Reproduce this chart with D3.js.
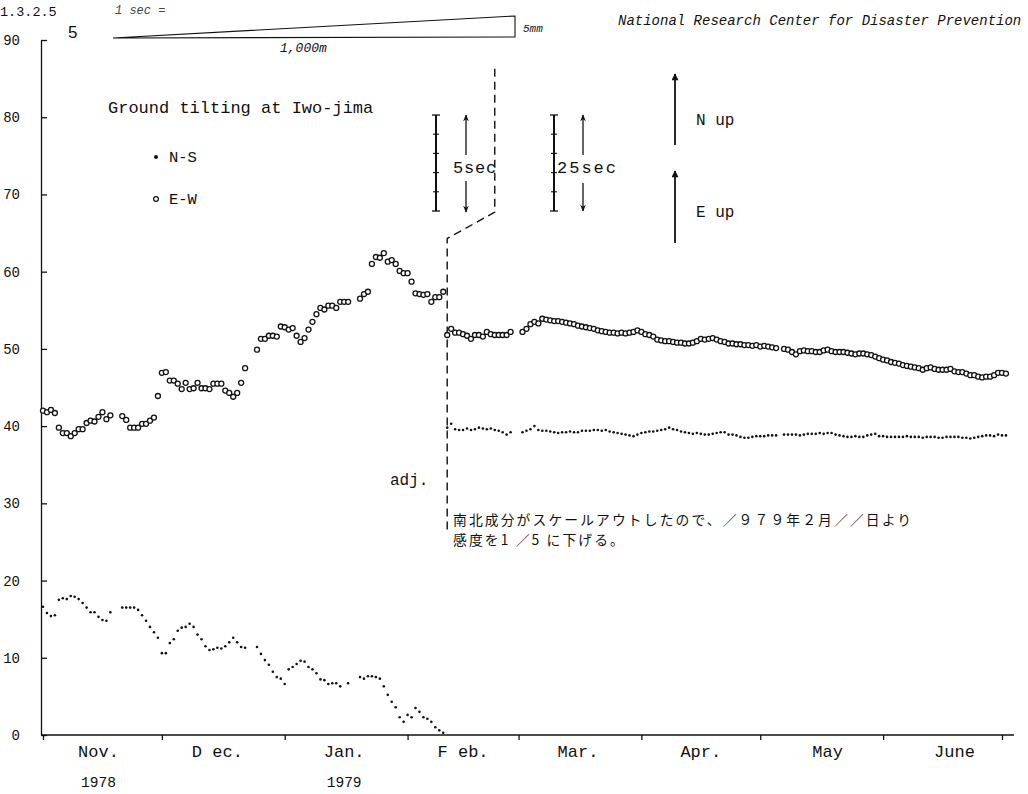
<!DOCTYPE html>
<html>
<head>
<meta charset="utf-8">
<script src="https://cdnjs.cloudflare.com/ajax/libs/d3/7.8.5/d3.min.js"></script>
<style>
body { margin: 0; background: #fff; }
text { font-family: "Liberation Mono", "DejaVu Sans Mono", monospace; fill: #111; }
.jp { font-family: "Noto Sans CJK JP", sans-serif; }
</style>
</head>
<body>
<svg id="viz" width="1028" height="794"></svg>
<script>
window.onload = main;

// daily readings, index 0 = 1 Nov 1978 (null = no reading)
var startDay = new Date(1978, 10, 1);
var nsValues = [
  16.6,15.8,15.4,15.5,17.5,17.7,17.6,18.0,17.9,17.6,
  17.1,16.5,15.9,15.9,15.3,14.9,14.8,15.9,null,null,
  16.5,16.5,16.5,16.5,16.2,15.5,14.8,14.0,13.3,12.6,
  10.6,10.6,11.9,12.4,13.5,13.9,14.0,14.4,14.0,13.0,
  12.4,11.5,11.0,11.1,11.3,11.2,11.5,12.0,12.6,12.0,
  11.4,11.3,null,null,11.4,10.5,9.7,9.1,8.2,7.5,
  7.3,6.6,8.5,8.8,9.2,9.6,9.5,8.8,8.5,8.0,
  7.2,7.1,6.6,6.7,6.7,6.3,null,6.7,null,null,
  7.5,7.3,7.6,7.6,7.5,7.3,6.3,5.2,4.3,3.6,
  2.3,1.7,2.6,2.3,3.5,3.0,2.3,2.1,1.7,1.0,
  0.6,0.3,39.8,40.3,39.6,39.5,39.5,39.7,39.5,39.6,
  39.8,39.7,39.6,39.7,39.5,39.4,39.2,38.9,39.2,null,
  null,39.2,39.4,39.6,40.0,39.5,39.4,39.4,39.3,39.2,
  39.1,39.2,39.2,39.3,39.2,39.2,39.4,39.4,39.4,39.5,
  39.5,39.4,39.5,39.3,39.2,39.1,39.0,38.9,38.8,38.7,
  38.9,39.1,39.2,39.3,39.3,39.4,39.5,39.6,39.8,39.6,
  39.5,39.3,39.2,39.1,39.0,39.1,39.0,38.9,38.9,39.0,
  39.1,39.2,39.2,38.9,38.9,38.8,38.6,38.5,38.5,38.6,
  38.7,38.7,38.7,38.8,38.8,38.8,null,38.9,38.9,38.9,
  38.9,38.8,38.9,39.0,39.0,39.0,39.1,39.0,39.1,39.1,
  38.9,38.8,38.7,38.6,38.6,38.7,38.6,38.6,38.8,38.9,
  39.0,38.7,38.7,38.6,38.6,38.6,38.6,38.6,38.7,38.6,
  38.6,38.6,38.5,38.6,38.6,38.6,38.5,38.5,38.6,38.6,
  38.6,38.6,38.5,38.5,38.4,38.5,38.6,38.7,38.8,38.8,
  38.7,38.9,38.8,38.8
];
var ewValues = [
  42.0,41.8,42.1,41.7,39.8,39.1,39.1,38.7,39.1,39.6,
  39.6,40.4,40.7,40.6,41.2,41.8,40.9,41.4,null,null,
  41.3,40.8,39.8,39.8,39.8,40.3,40.3,40.7,41.1,43.9,
  46.9,47.0,45.9,45.9,45.5,44.8,45.6,44.8,44.9,45.6,
  44.9,44.9,44.8,45.5,45.5,45.5,44.6,44.3,43.8,44.3,
  45.6,47.5,null,null,49.9,51.3,51.3,51.7,51.7,51.6,
  52.9,52.8,52.5,52.7,51.7,50.9,51.4,52.5,53.5,54.5,
  55.3,55.1,55.6,55.6,55.3,56.1,56.1,56.1,null,null,
  56.5,57.1,57.4,61.0,61.9,61.8,62.4,61.3,61.5,61.0,
  60.1,59.8,59.8,58.7,57.2,57.1,57.0,57.1,56.1,56.7,
  56.7,57.4,51.8,52.6,52.1,52.1,51.9,51.7,51.3,51.8,
  51.8,51.6,52.2,51.9,51.8,51.8,51.8,51.8,52.2,null,
  null,52.2,52.6,53.2,53.5,53.3,53.9,53.8,53.7,53.6,
  53.6,53.5,53.4,53.3,53.2,53.0,52.9,52.8,52.7,52.6,
  52.4,52.3,52.2,52.1,52.1,52.0,52.1,52.0,52.1,52.2,
  52.4,52.2,51.9,51.8,51.6,51.2,51.1,51.0,51.0,50.9,
  50.8,50.8,50.7,50.7,50.8,51.0,51.3,51.2,51.3,51.4,
  51.2,51.0,50.9,50.7,50.7,50.6,50.6,50.5,50.5,50.4,
  50.5,50.3,50.4,50.3,50.2,50.1,null,50.0,49.9,49.6,
  49.3,49.7,49.8,49.7,49.7,49.6,49.6,49.8,49.9,49.7,
  49.6,49.6,49.6,49.5,49.4,49.3,49.4,49.4,49.3,49.2,
  49.0,48.8,48.6,48.5,48.3,48.2,48.1,47.9,47.8,47.7,
  47.6,47.5,47.3,47.5,47.6,47.4,47.3,47.3,47.3,47.4,
  47.1,47.0,47.0,46.8,46.6,46.6,46.4,46.3,46.4,46.4,
  46.6,46.9,46.9,46.8
];

var yTicks = [0, 10, 20, 30, 40, 50, 60, 70, 80, 90];
var monthNames = ["Nov.", "D ec.", "Jan.", "F eb.", "Mar.", "Apr.", "May", "June"];
var monthNameDays = [new Date(1978,10,15), new Date(1978,11,15), new Date(1979,0,16), new Date(1979,1,15),
                     new Date(1979,2,16), new Date(1979,3,16), new Date(1979,4,18), new Date(1979,5,19)];
var yearNames = ["1978", "1979"];
var yearNameDays = [new Date(1978,10,15), new Date(1979,0,16)];
var noteLines = ["南北成分がスケールアウトしたので、／９７９年２月／／日より", "感度を1 ／5 に下げる。"];

// sensitivity change on 11 Feb 1979 (dashed "adj." line)
var adjDays = [new Date(1979,1,11), new Date(1979,1,11), new Date(1979,1,23), new Date(1979,1,23)];
var adjLevels = [26.6, 64.3, 67.7, 86.4];

var xScale = d3.scaleTime()
               .domain([new Date(1978,10,1), new Date(1979,6,1)])
               .range([43, 1002]);
var yScale = d3.scaleLinear()
               .domain([0, 90])
               .range([735, 40]);

function main(){
  var svg = d3.select("#viz");
  var defs = svg.append("defs");
  defs.append("marker").attr("id", "headSmall")
    .attr("viewBox", "0 -5 10 10").attr("refX", 9).attr("refY", 0)
    .attr("markerUnits", "userSpaceOnUse").attr("markerWidth", 9).attr("markerHeight", 7)
    .attr("orient", "auto")
    .append("path").attr("d", "M0,-4L10,0L0,4L3,0Z").attr("fill", "#111");
  defs.append("marker").attr("id", "headBig")
    .attr("viewBox", "0 -5 10 10").attr("refX", 9).attr("refY", 0)
    .attr("markerUnits", "userSpaceOnUse").attr("markerWidth", 11).attr("markerHeight", 7)
    .attr("orient", "auto")
    .append("path").attr("d", "M0,-5L10,0L0,5Z").attr("fill", "#111");

  drawHeader(svg);
  drawAxes(svg);
  drawNotes(svg);
  drawData(svg);
}

function drawHeader(svg){
  svg.append("text").attr("x", 0).attr("y", 16).style("font-size", "13.5px").text("1.3.2.5");
  svg.append("text").attr("x", 68).attr("y", 38)
    .style("font-family", "Liberation Sans, Arial, sans-serif").style("font-size", "17px").text("5");

  svg.append("text").attr("x", 115).attr("y", 14).style("font-size", "12px")
    .style("font-style", "italic").style("fill", "#444").text("1 sec =");
  svg.append("path")
    .attr("d", "M113,38L515,16L515,37L113,38")
    .attr("fill", "none").attr("stroke", "#111").attr("stroke-width", 1.1);
  svg.append("text").attr("x", 280).attr("y", 52).style("font-size", "13px")
    .style("font-style", "italic").text("1,000m");
  svg.append("text").attr("x", 523).attr("y", 32).style("font-size", "11px")
    .style("font-style", "italic").text("5mm");

  svg.append("text").attr("x", 618).attr("y", 25).style("font-size", "14px")
    .style("font-style", "italic").text("National Research Center for Disaster Prevention");

  svg.append("text").attr("x", 108).attr("y", 113).style("font-size", "17px")
    .text("Ground tilting at Iwo-jima");
  svg.append("circle").attr("cx", 156).attr("cy", 157).attr("r", 2).attr("fill", "#111");
  svg.append("text").attr("x", 169).attr("y", 162).style("font-size", "15.5px").text("N-S");
  svg.append("circle").attr("cx", 156).attr("cy", 199).attr("r", 2.4)
    .attr("fill", "#fff").attr("stroke", "#111").attr("stroke-width", 1.2);
  svg.append("text").attr("x", 169).attr("y", 204).style("font-size", "15.5px").text("E-W");
}

function drawAxes(svg){
  var yAxis = svg.append("g")
    .attr("transform", "translate(41,0)")
    .call(d3.axisLeft(yScale).tickValues(yTicks).tickSize(-6).tickSizeOuter(0)
          .tickPadding(21).tickFormat(d3.format("d")));
  yAxis.selectAll("text").style("font-size", "14px").style("font-family", null);
  yAxis.selectAll("path,line").attr("stroke", "#111").attr("stroke-width", 1.3);

  var xAxis = svg.append("g")
    .attr("transform", "translate(0," + yScale(0) + ")")
    .call(d3.axisBottom(xScale)
          .tickValues(d3.timeMonth.range(new Date(1978,10,1), new Date(1979,6,2)))
          .tickSize(5).tickSizeOuter(0).tickFormat(function(){ return ""; }));
  xAxis.select(".domain").remove();
  xAxis.selectAll("line").attr("stroke", "#111").attr("stroke-width", 1.3);
  svg.append("line")
    .attr("x1", 41).attr("x2", xScale.range()[1] + 12)
    .attr("y1", yScale(0)).attr("y2", yScale(0))
    .attr("stroke", "#111").attr("stroke-width", 1.3);

  svg.selectAll(".monthName").data(monthNames).enter().append("text")
    .attr("class", "monthName")
    .attr("x", function(d, i){ return xScale(monthNameDays[i]); })
    .attr("y", 757).attr("text-anchor", "middle").style("font-size", "17px")
    .text(function(d){ return d; });
  svg.selectAll(".yearName").data(yearNames).enter().append("text")
    .attr("class", "yearName")
    .attr("x", function(d, i){ return xScale(yearNameDays[i]); })
    .attr("y", 787).attr("text-anchor", "middle").style("font-size", "14.5px")
    .text(function(d){ return d; });
}

function drawNotes(svg){
  var adjLine = d3.line()
    .x(function(d, i){ return xScale(adjDays[i]); })
    .y(function(d){ return yScale(d); });
  svg.append("path").datum(adjLevels)
    .attr("d", adjLine).attr("fill", "none")
    .attr("stroke", "#111").attr("stroke-width", 1.4).attr("stroke-dasharray", "8,5");

  svg.append("text").attr("x", 390).attr("y", 485).style("font-size", "16px").text("adj.");
  svg.selectAll(".note").data(noteLines).enter().append("text")
    .attr("class", "note jp")
    .attr("x", 453)
    .attr("y", function(d, i){ return 525 + i * 20; })
    .style("font-size", "13.8px").style("letter-spacing", "2.1px")
    .text(function(d){ return d; });

  secBar(svg, 436, 115, 211, 5);
  secBar(svg, 554, 115, 211, 5);
  arrow(svg, 466, 155, 115, "headSmall", 1.3);
  arrow(svg, 466, 181, 212, "headSmall", 1.3);
  arrow(svg, 583, 155, 115, "headSmall", 1.3);
  arrow(svg, 583, 183, 211, "headSmall", 1.3);
  svg.append("text").attr("x", 453).attr("y", 173).style("font-size", "17px")
    .style("letter-spacing", "0.8px").text("5sec");
  svg.append("text").attr("x", 557).attr("y", 173).style("font-size", "17px")
    .style("letter-spacing", "2px").text("25sec");

  arrow(svg, 675, 145, 74, "headBig", 1.8);
  arrow(svg, 675, 243, 171, "headBig", 1.8);
  svg.append("text").attr("x", 696).attr("y", 125).style("font-size", "16px").text("N up");
  svg.append("text").attr("x", 696).attr("y", 217).style("font-size", "16px").text("E up");
}

function secBar(svg, x, top, bottom, n){
  var g = svg.append("g").attr("stroke", "#111");
  g.append("line").attr("x1", x).attr("x2", x).attr("y1", top).attr("y2", bottom).attr("stroke-width", 2);
  g.append("line").attr("x1", x - 4).attr("x2", x + 4).attr("y1", top).attr("y2", top).attr("stroke-width", 1.3);
  g.append("line").attr("x1", x - 4).attr("x2", x + 4).attr("y1", bottom).attr("y2", bottom).attr("stroke-width", 1.3);
  for(var i = 1; i < n; i++){
    var y = top + (bottom - top) * i / n;
    g.append("line").attr("x1", x - 3).attr("x2", x + 3).attr("y1", y).attr("y2", y).attr("stroke-width", 1.1);
  }
}

function arrow(svg, x, y1, y2, head, w){
  svg.append("line")
    .attr("x1", x).attr("x2", x).attr("y1", y1).attr("y2", y2)
    .attr("stroke", "#111").attr("stroke-width", w)
    .attr("marker-end", "url(#" + head + ")");
}

function drawData(svg){
  var nsPoints = [];
  var ewPoints = [];
  nsValues.forEach(function(v, i){
    if(v !== null){ nsPoints.push({day: d3.timeDay.offset(startDay, i), value: v}); }
  });
  ewValues.forEach(function(v, i){
    if(v !== null){ ewPoints.push({day: d3.timeDay.offset(startDay, i), value: v}); }
  });

  svg.append("g").selectAll("circle").data(ewPoints).enter().append("circle")
    .attr("cx", function(d){ return xScale(d.day); })
    .attr("cy", function(d){ return yScale(d.value); })
    .attr("r", 2.5)
    .attr("fill", "#fff").attr("stroke", "#111").attr("stroke-width", 1.3);

  svg.append("g").selectAll("circle").data(nsPoints).enter().append("circle")
    .attr("cx", function(d){ return xScale(d.day); })
    .attr("cy", function(d){ return yScale(d.value); })
    .attr("r", 1.3)
    .attr("fill", "#111");
}
</script>
</body>
</html>
